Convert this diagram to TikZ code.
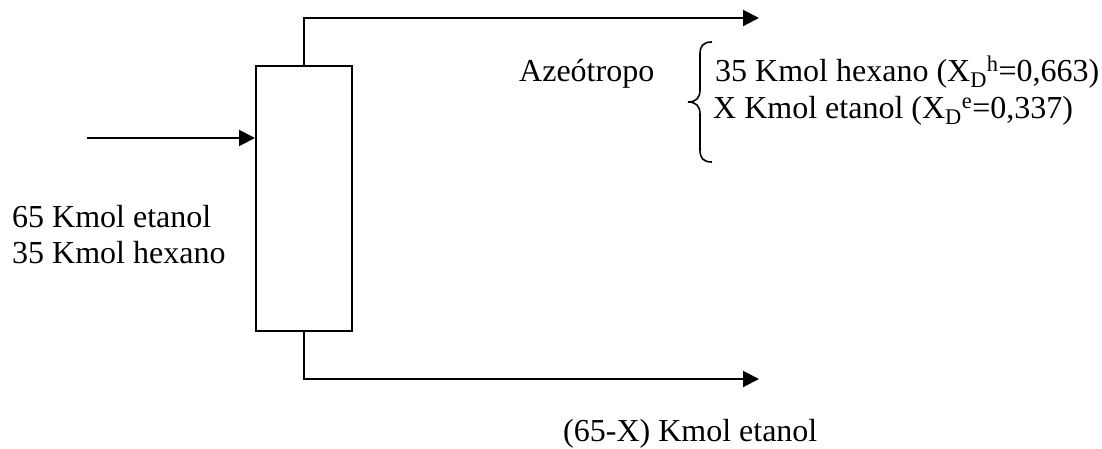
\documentclass[tikz,border=0pt]{standalone}
\usepackage{fontspec}
\setmainfont{Liberation Serif}
\usetikzlibrary{arrows.meta}
\begin{document}
\begin{tikzpicture}[x=1pt,y=-1pt,
  line/.style={line width=2pt},
  flow/.style={line width=2pt,-{Triangle[length=16pt,width=16pt]}},
  lbl/.style={anchor=base west,inner sep=0pt,font=\fontsize{32}{37}\selectfont}]
\useasboundingbox (0,0) rectangle (1102,448);
\node[draw,line width=2pt,minimum width=96pt,minimum height=265pt,inner sep=0pt] (col) at (304,198.5) {};
\coordinate (feed) at (87,138);
\coordinate (topc) at (304,18);
\coordinate (topend) at (759,18);
\coordinate (botc) at (304,379);
\coordinate (botend) at (759,379);
\draw[flow] (feed) -- (feed -| col.west);
\draw[flow] (col.north) -- (topc) -- (topend);
\draw[flow] (col.south) -- (botc) -- (botend);
\node[lbl] (f1) at (12,227) {65 Kmol etanol};
\node[lbl] (f2) at (12,263) {35 Kmol hexano};
\node[lbl] (az) at (519,81) {Azeótropo};
\node[lbl] (d1) at (715,81) {35 Kmol hexano (X\textsubscript{D}\textsuperscript{h}=0,663)};
\node[lbl] (d2) at (713,118) {X Kmol etanol (X\textsubscript{D}\textsuperscript{e}=0,337)};
\node[lbl] (b1) at (563,441) {(65-X) Kmol etanol};
\draw[line width=1.6pt] (712,42) .. controls (703,42) and (700,46) .. (700,54) -- (700,90)
  .. controls (700,98) and (696,102) .. (688,102)
  .. controls (696,102) and (700,106) .. (700,114) -- (700,150)
  .. controls (700,158) and (703,162) .. (712,162);
\end{tikzpicture}
\end{document}
